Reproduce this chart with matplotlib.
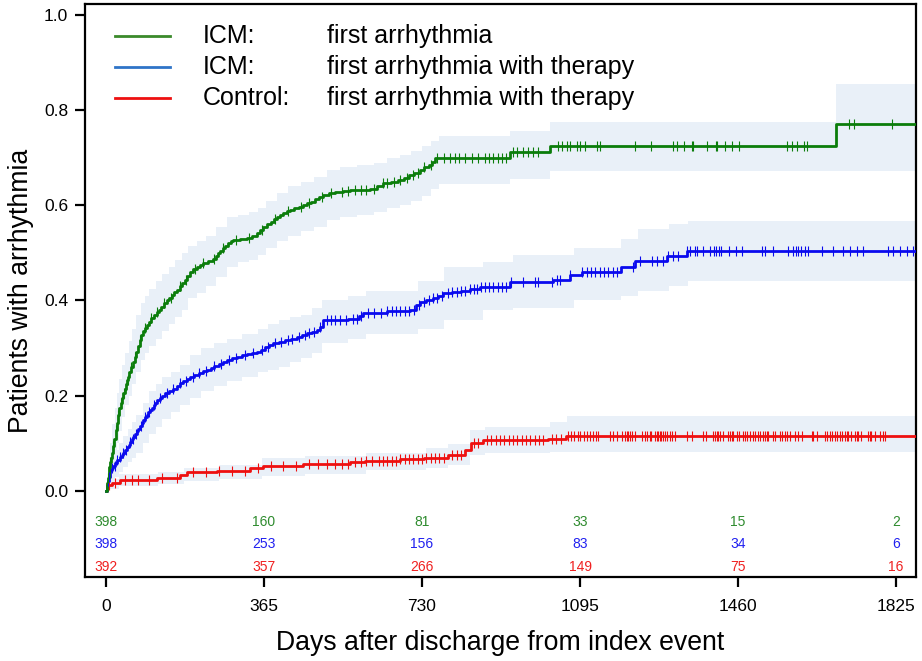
import matplotlib
matplotlib.use("Agg")
import matplotlib.pyplot as plt
import numpy as np

plt.rcParams['font.family'] = ['Liberation Sans', 'DejaVu Sans']

# ---- cumulative incidence steps (days, value) ----
# ICM: first arrhythmia
icm_days = [0, 2, 4, 6, 8, 10, 12, 14, 16, 19, 22, 25, 28, 31, 34, 37, 40, 43, 46, 49, 51,
            54, 58, 62, 67, 70, 74, 78, 82, 86, 90, 94, 99, 105, 111, 117, 123, 128, 134,
            140, 146, 152, 158, 164, 170, 176, 182, 187, 194, 202, 210, 217, 224, 235, 247,
            253, 258, 264, 270, 276, 282, 288, 293, 310, 325, 337, 349, 356, 363, 372, 380,
            388, 395, 403, 410, 418, 425, 435, 445, 455, 464, 473, 482, 492, 501, 515, 530,
            548, 564, 590, 610, 625, 640, 658, 675, 688, 700, 712, 725, 735, 745, 752, 760,
            933, 1025, 1686]
icm_vals = [0.0, 0.016, 0.028, 0.04, 0.05, 0.06, 0.068, 0.08, 0.095, 0.11, 0.127, 0.142,
            0.16, 0.175, 0.185, 0.195, 0.205, 0.215, 0.225, 0.233, 0.24, 0.25, 0.26, 0.27,
            0.282, 0.292, 0.305, 0.317, 0.328, 0.336, 0.343, 0.348, 0.355, 0.364, 0.37,
            0.375, 0.381, 0.387, 0.394, 0.401, 0.406, 0.412, 0.417, 0.422, 0.43, 0.436,
            0.443, 0.452, 0.46, 0.466, 0.47, 0.475, 0.478, 0.484, 0.488, 0.494, 0.5, 0.505,
            0.51, 0.515, 0.52, 0.524, 0.527, 0.529, 0.531, 0.536, 0.541, 0.548, 0.555, 0.56,
            0.565, 0.571, 0.576, 0.58, 0.583, 0.587, 0.59, 0.594, 0.597, 0.6, 0.604, 0.608,
            0.613, 0.618, 0.622, 0.625, 0.627, 0.63, 0.632, 0.633, 0.635, 0.64, 0.646, 0.65,
            0.653, 0.658, 0.663, 0.668, 0.674, 0.68, 0.685, 0.69, 0.699, 0.711, 0.725, 0.771]

# ICM: first arrhythmia with therapy
icmt_days = [0, 2, 4, 6, 9, 13, 17, 21, 26, 32, 36, 40, 44, 48, 52, 55, 59, 63, 67, 71, 75,
             79, 83, 86, 90, 94, 98, 102, 106, 110, 114, 117, 124, 130, 137, 145, 155, 163,
             170, 178, 186, 194, 204, 214, 224, 233, 242, 250, 260, 271, 280, 290, 302, 313,
             325, 337, 348, 358, 367, 376, 386, 400, 413, 427, 441, 453, 465, 476, 487, 495,
             502, 560, 585, 594, 650, 702, 715, 725, 740, 755, 768, 779, 800, 820, 840, 864,
             933, 1033, 1072, 1100, 1190, 1222, 1295, 1341]
icmt_vals = [0.0, 0.01, 0.02, 0.03, 0.0435, 0.048, 0.053, 0.058, 0.064, 0.071, 0.076, 0.08,
             0.086, 0.092, 0.097, 0.102, 0.108, 0.113, 0.119, 0.125, 0.13, 0.137, 0.143,
             0.149, 0.155, 0.16, 0.165, 0.17, 0.175, 0.18, 0.185, 0.19, 0.195, 0.2, 0.205,
             0.21, 0.215, 0.22, 0.226, 0.23, 0.235, 0.24, 0.244, 0.248, 0.251, 0.254, 0.258,
             0.262, 0.266, 0.271, 0.275, 0.279, 0.282, 0.285, 0.287, 0.29, 0.292, 0.297,
             0.302, 0.306, 0.31, 0.313, 0.316, 0.32, 0.324, 0.328, 0.331, 0.334, 0.338,
             0.345, 0.359, 0.362, 0.368, 0.373, 0.377, 0.38, 0.39, 0.397, 0.401, 0.405, 0.41,
             0.415, 0.418, 0.42, 0.425, 0.429, 0.439, 0.444, 0.453, 0.46, 0.471, 0.483,
             0.493, 0.504]

# Control: first arrhythmia with therapy
ctl_days = [0, 2, 13, 32, 117, 171, 186, 256, 333, 363, 456, 564, 599, 680, 735, 790, 830,
            844, 871, 1021, 1062]
ctl_vals = [0.0, 0.012, 0.0155, 0.0225, 0.026, 0.033, 0.04, 0.042, 0.047, 0.0526, 0.056,
            0.061, 0.063, 0.066, 0.07, 0.076, 0.086, 0.0996, 0.1066, 0.11, 0.115]

# ---- confidence bands (days, lower, upper) ----
icm_ci_days = [0, 5, 10, 15, 20, 25, 30, 38, 45, 52, 60, 70, 80, 90, 100, 115, 130, 145,
               160, 175, 190, 210, 230, 255, 280, 305, 330, 350, 370, 395, 420, 450, 480,
               510, 540, 580, 620, 650, 680, 705, 730, 750, 770, 933, 1025, 1686]
icm_ci_lo = [0.0, 0.01, 0.03, 0.05, 0.075, 0.1, 0.125, 0.155, 0.18, 0.2, 0.225, 0.25,
             0.275, 0.29, 0.305, 0.32, 0.335, 0.35, 0.365, 0.38, 0.405, 0.415, 0.43, 0.45,
             0.47, 0.48, 0.485, 0.495, 0.51, 0.525, 0.535, 0.545, 0.555, 0.57, 0.575, 0.58,
             0.585, 0.595, 0.6, 0.61, 0.62, 0.635, 0.645, 0.655, 0.672, 0.672]
icm_ci_hi = [0.0, 0.05, 0.1, 0.14, 0.175, 0.205, 0.235, 0.265, 0.29, 0.315, 0.34, 0.37,
             0.395, 0.41, 0.425, 0.44, 0.455, 0.47, 0.485, 0.5, 0.515, 0.525, 0.535, 0.555,
             0.575, 0.58, 0.585, 0.595, 0.61, 0.625, 0.64, 0.65, 0.66, 0.675, 0.68, 0.685,
             0.688, 0.7, 0.705, 0.715, 0.725, 0.735, 0.745, 0.757, 0.775, 0.855]

icmt_ci_days = [0, 5, 10, 20, 30, 40, 50, 60, 70, 85, 100, 115, 130, 150, 170, 195, 220,
                250, 280, 315, 350, 375, 400, 425, 450, 475, 500, 560, 600, 720, 780, 870,
                940, 1080, 1190, 1230, 1300, 1345]
icmt_ci_lo = [0.0, 0.005, 0.02, 0.03, 0.04, 0.05, 0.06, 0.07, 0.08, 0.1, 0.12, 0.135,
              0.15, 0.165, 0.18, 0.195, 0.21, 0.22, 0.23, 0.24, 0.25, 0.255, 0.26, 0.27,
              0.28, 0.29, 0.31, 0.32, 0.33, 0.34, 0.36, 0.38, 0.385, 0.4, 0.41, 0.42, 0.43,
              0.44]
icmt_ci_hi = [0.0, 0.04, 0.07, 0.085, 0.1, 0.115, 0.13, 0.145, 0.16, 0.185, 0.21, 0.225,
              0.24, 0.25, 0.265, 0.285, 0.3, 0.31, 0.32, 0.33, 0.34, 0.35, 0.36, 0.365,
              0.37, 0.385, 0.4, 0.41, 0.42, 0.44, 0.47, 0.48, 0.495, 0.51, 0.53, 0.55, 0.56,
              0.568]

ctl_ci_days = [0, 5, 30, 120, 180, 260, 360, 460, 600, 740, 790, 840, 875, 1025, 1065]
ctl_ci_lo = [0.0, 0.003, 0.01, 0.014, 0.02, 0.025, 0.032, 0.036, 0.043, 0.048, 0.054,
             0.075, 0.08, 0.082, 0.082]
ctl_ci_hi = [0.0, 0.025, 0.035, 0.04, 0.048, 0.055, 0.068, 0.074, 0.08, 0.09, 0.098,
             0.128, 0.135, 0.145, 0.158]

# ---- censoring times ----
icm_cens = [5, 10, 17, 23, 28, 35, 42, 50, 58, 67, 78, 90, 105, 118, 135, 150, 170, 185,
            205, 225, 250, 270, 300, 330, 360, 390, 420, 450, 470, 500, 520, 545, 560, 575,
            590, 600, 620, 640, 650, 665, 680, 695, 710, 720, 735, 750, 765, 780, 795, 805,
            815, 830, 845, 860, 875, 885, 895, 905, 915, 925, 940, 950, 963, 975, 986, 998,
            1044, 1053, 1065, 1071, 1088, 1094, 1106, 1134, 1141, 1221, 1258, 1309, 1318,
            1336, 1353, 1355, 1389, 1410, 1412, 1429, 1445, 1463, 1574, 1585, 1597, 1613,
            1620, 1717, 1728, 1816]
icmt_cens = [4, 8, 14, 20, 26, 33, 40, 47, 55, 62, 70, 80, 90, 100, 112, 125, 140, 155,
             170, 185, 200, 215, 230, 250, 265, 285, 300, 320, 340, 360, 375, 390, 405, 420,
             430, 445, 460, 470, 480, 495, 510, 520, 530, 540, 555, 570, 580, 590, 605, 620,
             635, 650, 660, 670, 680, 690, 700, 712, 722, 735, 745, 755, 765, 775, 790, 800,
             810, 820, 830, 840, 850, 858, 866, 875, 885, 895, 905, 915, 925, 935, 963, 991,
             998, 1030, 1042, 1049, 1072, 1100, 1110, 1120, 1130, 1140, 1150, 1160, 1170,
             1180, 1217, 1234, 1261, 1273, 1287, 1298, 1310, 1321, 1342, 1350, 1360, 1365,
             1380, 1395, 1405, 1410, 1415, 1420, 1440, 1455, 1470, 1515, 1522, 1541, 1575,
             1587, 1594, 1599, 1605, 1615, 1622, 1654, 1679, 1702, 1719, 1735, 1749, 1806,
             1818, 1834, 1850, 1864]
ctl_cens = [8, 20, 45, 60, 75, 100, 130, 165, 200, 230, 260, 290, 320, 350, 380, 410, 440,
            470, 490, 510, 530, 545, 560, 575, 590, 600, 615, 630, 640, 650, 660, 670, 680,
            690, 700, 710, 720, 730, 740, 750, 760, 770, 780, 800, 810, 820, 850, 860, 880,
            890, 900, 910, 920, 930, 940, 950, 960, 970, 980, 990, 1000, 1010, 1030, 1040,
            1050, 1068, 1075, 1082, 1090, 1096, 1103, 1110, 1118, 1125, 1131, 1137, 1164,
            1172, 1180, 1191, 1199, 1203, 1206, 1210, 1214, 1222, 1237, 1245, 1249, 1257,
            1260, 1268, 1272, 1276, 1280, 1283, 1287, 1291, 1295, 1303, 1307, 1314, 1341,
            1353, 1380, 1387, 1403, 1407, 1411, 1414, 1418, 1426, 1437, 1441, 1445, 1449,
            1457, 1461, 1472, 1476, 1480, 1488, 1495, 1499, 1507, 1511, 1518, 1522, 1526,
            1530, 1541, 1545, 1557, 1561, 1568, 1572, 1580, 1591, 1599, 1607, 1630, 1634,
            1642, 1661, 1665, 1672, 1676, 1684, 1688, 1695, 1699, 1707, 1711, 1715, 1722,
            1730, 1734, 1738, 1745, 1761, 1765, 1768, 1776, 1788, 1795, 1799]

# ---- numbers at risk ----
risk_days = [0, 365, 730, 1095, 1460, 1825]
risk_icm = [398, 160, 81, 33, 15, 2]
risk_icmt = [398, 253, 156, 83, 34, 6]
risk_ctl = [392, 357, 266, 149, 75, 16]

X_END = 1880
band_color = '#e9f0f8'
c_green, c_blue, c_red = '#0b7d0b', '#0a0aee', '#ee1010'

fig = plt.figure(figsize=(9.22, 6.61), dpi=100)
ax = fig.add_axes([85 / 922, 1 - 577 / 661, 831 / 922, 573 / 661])


def draw_band(d, lo, hi):
    d = list(d) + [X_END]
    lo = list(lo) + [lo[-1]]
    hi = list(hi) + [hi[-1]]
    ax.fill_between(d, lo, hi, step='post', color=band_color, linewidth=0, zorder=1)


def draw_curve(d, v, cens, color):
    dd = list(d) + [X_END]
    vv = list(v) + [v[-1]]
    ax.step(dd, vv, where='post', color=color, linewidth=2.0, zorder=3)
    idx = np.searchsorted(np.array(d), np.array(cens), side='right') - 1
    cy = np.array(v)[idx]
    ax.plot(cens, cy, linestyle='none', marker='|', markersize=7.5,
            markeredgewidth=0.8, color=color, zorder=4)


draw_band(icm_ci_days, icm_ci_lo, icm_ci_hi)
draw_band(icmt_ci_days, icmt_ci_lo, icmt_ci_hi)
draw_band(ctl_ci_days, ctl_ci_lo, ctl_ci_hi)
draw_curve(ctl_days, ctl_vals, ctl_cens, c_red)
draw_curve(icmt_days, icmt_vals, icmt_cens, c_blue)
draw_curve(icm_days, icm_vals, icm_cens, c_green)

# numbers at risk inside the plot
for row_y, counts, col in [(-0.065, risk_icm, '#2e8b2e'),
                           (-0.112, risk_icmt, '#2020f0'),
                           (-0.160, risk_ctl, '#f02020')]:
    for d, n in zip(risk_days, counts):
        ax.text(d, row_y, str(n), color=col, fontsize=10, ha='center', va='center')

ax.set_xlim(-48.5, 1871)
ax.set_ylim(-0.181, 1.023)
ax.set_xticks(risk_days)
ax.set_yticks([0.0, 0.2, 0.4, 0.6, 0.8, 1.0])
ax.set_yticklabels(['0.0', '0.2', '0.4', '0.6', '0.8', '1.0'])
ax.tick_params(axis='both', direction='out', length=7, width=1.6, labelsize=12.5)
ax.tick_params(axis='x', pad=9)
ax.tick_params(axis='y', pad=5)
for s in ax.spines.values():
    s.set_linewidth(1.6)

ax.set_xlabel('Days after discharge from index event', fontsize=19.2, labelpad=11)
ax.set_ylabel('Patients with arrhythmia', fontsize=19.2, labelpad=7)

# legend drawn by hand so the two text columns line up
legend_rows = [(0.944, '#3a8a2a', 'ICM:', 'first arrhythmia'),
               (0.890, '#2f74c8', 'ICM:', 'first arrhythmia with therapy'),
               (0.836, '#ee1010', 'Control:', 'first arrhythmia with therapy')]
for ly, lc, grp, desc in legend_rows:
    ax.plot([0.036, 0.102], [ly, ly], color=lc, linewidth=2.0, transform=ax.transAxes,
            zorder=5)
    ax.text(0.142, ly, grp, fontsize=18, va='center', transform=ax.transAxes)
    ax.text(0.291, ly, desc, fontsize=18, va='center', transform=ax.transAxes)

fig.savefig('out.png', dpi=100)
